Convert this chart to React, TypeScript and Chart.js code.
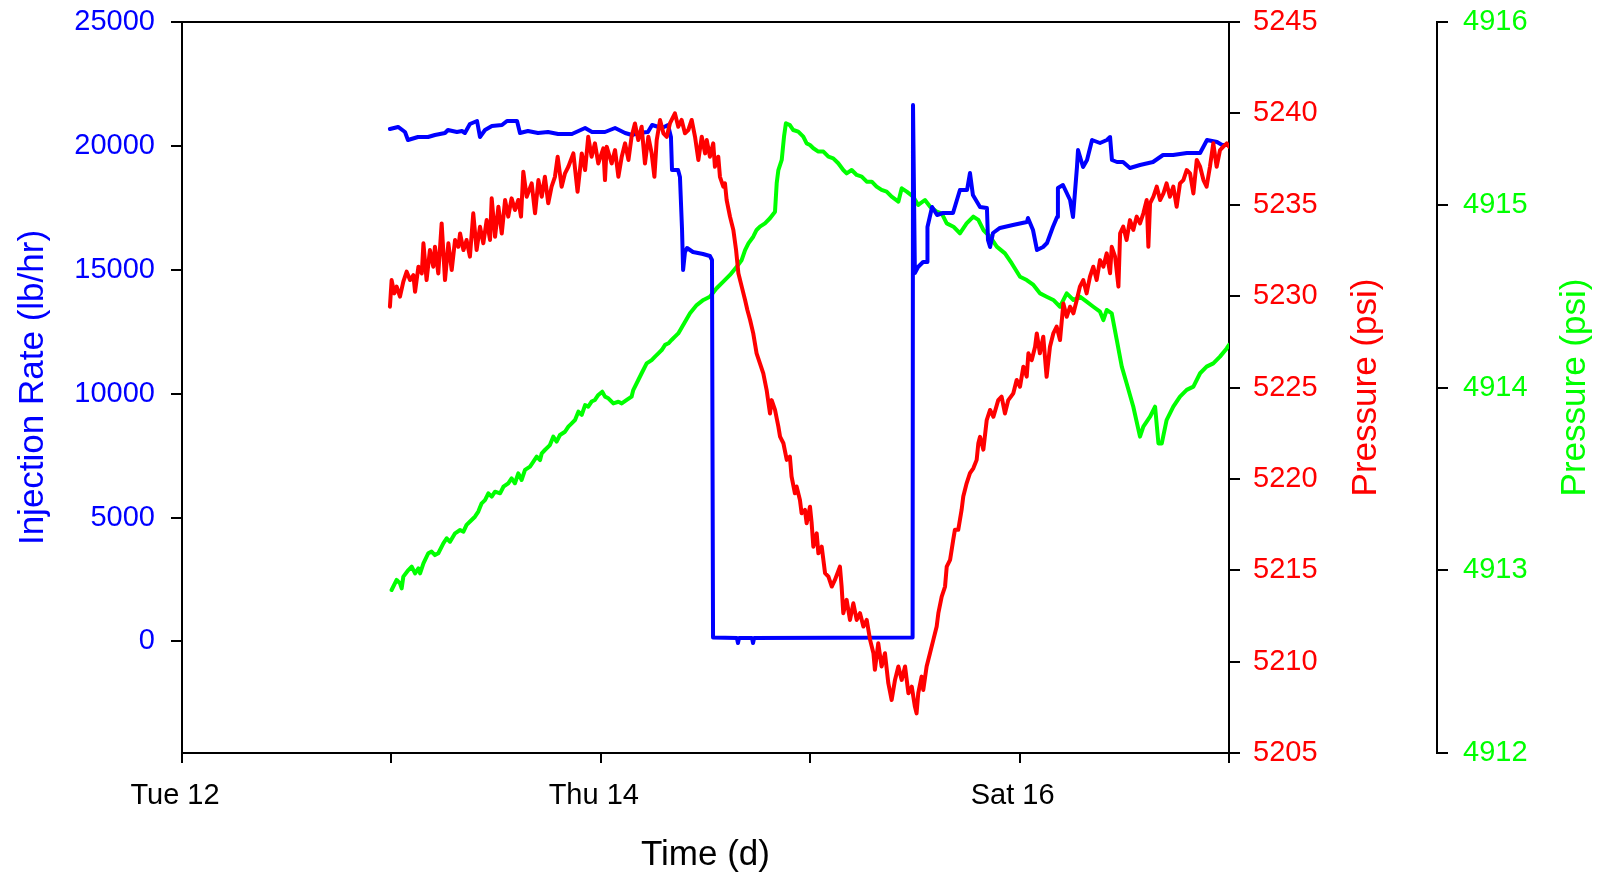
import React, { useEffect, useRef } from 'react';
import { Chart, registerables } from 'chart.js';

Chart.register(...registerables);

// ---------- axis ticks / labels ----------
const xTickValues = [0, 1, 2, 3, 4, 5];
const xTickLabels = ['Tue 12', '', 'Thu 14', '', 'Sat 16', ''];
const rateTicks = [0, 5000, 10000, 15000, 20000, 25000];
const redTicks = [5205, 5210, 5215, 5220, 5225, 5230, 5235, 5240, 5245];
const greenTicks = [4912, 4913, 4914, 4915, 4916];

// ---------- series: [time (days after Tue 12 00:00), value] ----------
const injectionRate: [number, number][] = [
  [0.993, 20682], [1.032, 20763], [1.065, 20561], [1.079, 20238], [1.127, 20359], [1.175, 20359],
  [1.208, 20440], [1.256, 20520], [1.270, 20642], [1.313, 20561], [1.337, 20601], [1.351, 20520],
  [1.375, 20884], [1.409, 21005], [1.423, 20359], [1.447, 20642], [1.480, 20803], [1.528, 20843],
  [1.552, 21005], [1.600, 21005], [1.614, 20520], [1.652, 20601], [1.700, 20520], [1.748, 20561],
  [1.796, 20480], [1.862, 20480], [1.925, 20722], [1.958, 20561], [2.020, 20561], [2.068, 20722],
  [2.116, 20520], [2.149, 20440], [2.178, 20520], [2.225, 20561], [2.245, 20843], [2.292, 20722],
  [2.321, 20843], [2.335, 20359], [2.340, 19027], [2.369, 19027], [2.378, 18745], [2.388, 16606],
  [2.393, 14992], [2.402, 15718], [2.412, 15880], [2.440, 15718], [2.488, 15637], [2.521, 15557],
  [2.531, 15395], [2.536, 160], [2.650, 140], [2.655, -60], [2.660, 140], [2.722, 140],
  [2.727, -60], [2.732, 140], [3.489, 160], [3.491, 21650], [3.500, 14871], [3.515, 15113],
  [3.539, 15315], [3.558, 15315], [3.560, 16727], [3.582, 17534], [3.606, 17211], [3.634, 17292],
  [3.682, 17292], [3.715, 18220], [3.749, 18220], [3.763, 18906], [3.777, 18018], [3.811, 17534],
  [3.844, 17494], [3.849, 16202], [3.859, 15920], [3.873, 16485], [3.906, 16687], [3.968, 16808],
  [4.035, 16929], [4.040, 17090], [4.064, 16606], [4.083, 15799], [4.112, 15920], [4.131, 16081],
  [4.159, 16727], [4.179, 17131], [4.183, 18301], [4.207, 18422], [4.241, 17817], [4.255, 17131],
  [4.274, 19148], [4.279, 19834], [4.303, 19148], [4.322, 19431], [4.346, 20238], [4.384, 20117],
  [4.417, 20238], [4.432, 20359], [4.441, 19431], [4.465, 19350], [4.494, 19350], [4.527, 19108],
  [4.575, 19229], [4.637, 19350], [4.685, 19633], [4.733, 19633], [4.799, 19713], [4.862, 19713],
  [4.895, 20238], [4.943, 20157], [4.967, 20036], [4.995, 20036],
];

const pressureRed: [number, number][] = [
  [0.993, 5229.42], [1.001, 5230.88], [1.014, 5230.15], [1.025, 5230.52], [1.041, 5229.97], [1.057, 5230.79],
  [1.073, 5231.34], [1.089, 5230.88], [1.105, 5231.15], [1.113, 5230.24], [1.129, 5231.61], [1.145, 5231.24],
  [1.153, 5232.89], [1.168, 5230.88], [1.184, 5232.52], [1.200, 5231.61], [1.208, 5232.70], [1.224, 5231.24],
  [1.240, 5233.98], [1.256, 5230.88], [1.272, 5232.89], [1.288, 5231.43], [1.304, 5233.07], [1.320, 5232.70],
  [1.328, 5233.43], [1.344, 5232.52], [1.359, 5233.07], [1.375, 5232.16], [1.391, 5234.53], [1.407, 5232.52],
  [1.423, 5233.80], [1.439, 5232.89], [1.455, 5234.16], [1.471, 5233.07], [1.479, 5235.35], [1.495, 5233.25],
  [1.511, 5234.89], [1.527, 5233.43], [1.543, 5235.26], [1.558, 5234.35], [1.574, 5235.35], [1.590, 5234.71],
  [1.606, 5235.26], [1.619, 5234.35], [1.630, 5236.81], [1.646, 5235.44], [1.670, 5236.17], [1.686, 5234.53],
  [1.702, 5236.35], [1.718, 5235.44], [1.733, 5236.53], [1.749, 5235.08], [1.765, 5235.99], [1.781, 5236.53],
  [1.794, 5237.63], [1.813, 5235.99], [1.829, 5236.72], [1.845, 5237.08], [1.869, 5237.81], [1.889, 5235.71],
  [1.909, 5237.81], [1.925, 5236.90], [1.940, 5238.72], [1.956, 5237.63], [1.972, 5238.36], [1.988, 5237.26],
  [2.012, 5238.09], [2.020, 5236.35], [2.028, 5238.18], [2.052, 5237.26], [2.068, 5237.99], [2.084, 5236.53],
  [2.100, 5237.63], [2.116, 5238.36], [2.132, 5237.45], [2.147, 5238.72], [2.163, 5239.45], [2.179, 5238.54],
  [2.195, 5239.27], [2.211, 5237.26], [2.227, 5238.72], [2.243, 5237.81], [2.256, 5236.53], [2.267, 5238.54],
  [2.283, 5239.64], [2.299, 5238.91], [2.315, 5238.72], [2.330, 5239.45], [2.354, 5240.00], [2.370, 5239.27],
  [2.386, 5239.64], [2.402, 5238.91], [2.418, 5239.09], [2.434, 5239.64], [2.450, 5238.72], [2.466, 5237.45],
  [2.482, 5238.72], [2.498, 5237.81], [2.506, 5238.54], [2.521, 5237.63], [2.537, 5238.36], [2.545, 5237.08],
  [2.561, 5237.63], [2.569, 5236.53], [2.585, 5235.99], [2.593, 5236.17], [2.601, 5235.26], [2.617, 5234.35],
  [2.633, 5233.62], [2.646, 5232.52], [2.657, 5231.25], [2.673, 5230.52], [2.689, 5229.79], [2.700, 5229.24],
  [2.713, 5228.69], [2.728, 5227.96], [2.744, 5226.87], [2.760, 5226.32], [2.776, 5225.77], [2.792, 5224.86],
  [2.808, 5223.58], [2.816, 5224.31], [2.832, 5223.77], [2.848, 5222.86], [2.856, 5222.31], [2.872, 5221.95],
  [2.888, 5221.04], [2.903, 5221.22], [2.911, 5220.13], [2.927, 5219.21], [2.935, 5219.58], [2.951, 5218.85],
  [2.959, 5218.12], [2.975, 5218.30], [2.983, 5217.57], [2.999, 5218.48], [3.007, 5217.57], [3.015, 5216.29],
  [3.031, 5217.02], [3.039, 5215.93], [3.055, 5216.29], [3.071, 5214.84], [3.087, 5214.65], [3.103, 5214.11],
  [3.118, 5214.47], [3.142, 5215.20], [3.150, 5214.11], [3.158, 5212.65], [3.174, 5213.38], [3.190, 5212.28],
  [3.206, 5213.19], [3.222, 5212.28], [3.238, 5212.65], [3.254, 5211.92], [3.270, 5212.28], [3.286, 5211.19],
  [3.302, 5210.46], [3.309, 5209.55], [3.325, 5211.01], [3.341, 5209.73], [3.357, 5210.46], [3.373, 5208.82],
  [3.389, 5207.90], [3.405, 5209.00], [3.421, 5209.73], [3.437, 5209.00], [3.453, 5209.73], [3.469, 5208.27],
  [3.485, 5208.63], [3.500, 5207.54], [3.508, 5207.17], [3.516, 5208.27], [3.532, 5209.18], [3.540, 5208.45],
  [3.556, 5209.73], [3.572, 5210.46], [3.588, 5211.19], [3.604, 5211.92], [3.612, 5212.65], [3.628, 5213.56],
  [3.644, 5214.11], [3.652, 5215.20], [3.668, 5215.57], [3.683, 5216.66], [3.691, 5217.21], [3.707, 5217.21],
  [3.723, 5218.30], [3.731, 5219.03], [3.747, 5219.76], [3.763, 5220.31], [3.779, 5220.58], [3.795, 5221.04],
  [3.803, 5221.95], [3.811, 5222.30], [3.827, 5221.60], [3.843, 5223.22], [3.859, 5223.77], [3.875, 5223.40],
  [3.898, 5224.31], [3.914, 5224.50], [3.930, 5223.58], [3.946, 5224.31], [3.970, 5224.68], [3.986, 5225.41],
  [4.002, 5225.04], [4.018, 5226.14], [4.034, 5225.59], [4.042, 5226.87], [4.058, 5226.50], [4.074, 5227.23],
  [4.082, 5227.96], [4.097, 5226.87], [4.113, 5227.78], [4.129, 5225.59], [4.145, 5227.23], [4.161, 5227.96],
  [4.177, 5228.33], [4.193, 5227.60], [4.209, 5229.60], [4.225, 5228.87], [4.241, 5229.42], [4.257, 5229.06],
  [4.273, 5229.79], [4.288, 5230.52], [4.304, 5230.88], [4.320, 5230.15], [4.336, 5231.06], [4.352, 5231.61],
  [4.368, 5230.88], [4.384, 5231.97], [4.400, 5231.61], [4.416, 5232.34], [4.432, 5231.25], [4.440, 5232.70],
  [4.456, 5232.16], [4.472, 5230.52], [4.480, 5233.43], [4.495, 5233.80], [4.511, 5233.07], [4.527, 5234.16],
  [4.543, 5233.62], [4.559, 5234.35], [4.575, 5233.98], [4.591, 5234.53], [4.607, 5235.26], [4.615, 5232.70],
  [4.623, 5235.08], [4.639, 5235.44], [4.655, 5235.99], [4.671, 5235.26], [4.687, 5235.62], [4.702, 5236.17],
  [4.718, 5235.44], [4.734, 5235.99], [4.750, 5234.89], [4.766, 5236.17], [4.782, 5236.35], [4.798, 5236.90],
  [4.814, 5236.72], [4.830, 5235.62], [4.846, 5237.45], [4.862, 5237.08], [4.878, 5236.35], [4.893, 5235.99],
  [4.909, 5237.08], [4.925, 5238.36], [4.941, 5237.08], [4.957, 5237.99], [4.973, 5238.18], [4.989, 5238.36],
  [5.000, 5238.18],
];

const pressureGreen: [number, number][] = [
  [1.001, 4912.892], [1.025, 4912.947], [1.041, 4912.928], [1.049, 4912.901], [1.057, 4912.965], [1.081, 4913.001],
  [1.097, 4913.020], [1.113, 4912.983], [1.129, 4913.010], [1.137, 4912.983], [1.153, 4913.038], [1.176, 4913.093],
  [1.192, 4913.102], [1.208, 4913.083], [1.224, 4913.093], [1.248, 4913.147], [1.264, 4913.175], [1.280, 4913.156],
  [1.304, 4913.202], [1.328, 4913.220], [1.344, 4913.211], [1.359, 4913.248], [1.383, 4913.275], [1.399, 4913.293],
  [1.415, 4913.321], [1.431, 4913.366], [1.447, 4913.384], [1.463, 4913.421], [1.479, 4913.403], [1.495, 4913.430],
  [1.519, 4913.421], [1.535, 4913.457], [1.558, 4913.476], [1.574, 4913.503], [1.590, 4913.476], [1.606, 4913.530],
  [1.622, 4913.494], [1.638, 4913.549], [1.662, 4913.567], [1.678, 4913.594], [1.694, 4913.622], [1.710, 4913.603],
  [1.718, 4913.640], [1.733, 4913.658], [1.757, 4913.685], [1.773, 4913.731], [1.789, 4913.704], [1.805, 4913.740],
  [1.829, 4913.758], [1.845, 4913.786], [1.861, 4913.804], [1.877, 4913.822], [1.893, 4913.868], [1.909, 4913.850],
  [1.925, 4913.904], [1.940, 4913.895], [1.956, 4913.923], [1.972, 4913.932], [1.988, 4913.959], [2.007, 4913.977],
  [2.020, 4913.950], [2.036, 4913.941], [2.060, 4913.913], [2.084, 4913.922], [2.100, 4913.913], [2.124, 4913.932],
  [2.147, 4913.950], [2.155, 4913.986], [2.179, 4914.041], [2.195, 4914.078], [2.219, 4914.132], [2.243, 4914.150],
  [2.259, 4914.169], [2.275, 4914.187], [2.291, 4914.205], [2.307, 4914.233], [2.323, 4914.242], [2.338, 4914.260],
  [2.354, 4914.278], [2.370, 4914.296], [2.426, 4914.406], [2.458, 4914.451], [2.490, 4914.479], [2.521, 4914.497],
  [2.553, 4914.543], [2.585, 4914.579], [2.617, 4914.616], [2.649, 4914.661], [2.673, 4914.698], [2.689, 4914.752],
  [2.705, 4914.789], [2.728, 4914.825], [2.744, 4914.862], [2.760, 4914.880], [2.784, 4914.898], [2.808, 4914.926],
  [2.832, 4914.962], [2.840, 4915.117], [2.848, 4915.190], [2.864, 4915.245], [2.875, 4915.373], [2.884, 4915.446],
  [2.903, 4915.436], [2.919, 4915.409], [2.943, 4915.400], [2.967, 4915.373], [2.983, 4915.336], [2.999, 4915.327],
  [3.015, 4915.309], [3.039, 4915.291], [3.063, 4915.291], [3.087, 4915.263], [3.110, 4915.254], [3.134, 4915.227],
  [3.158, 4915.190], [3.174, 4915.172], [3.198, 4915.190], [3.222, 4915.163], [3.246, 4915.154], [3.270, 4915.126],
  [3.294, 4915.126], [3.317, 4915.099], [3.341, 4915.081], [3.365, 4915.072], [3.389, 4915.044], [3.421, 4915.017],
  [3.437, 4915.090], [3.461, 4915.072], [3.492, 4915.044], [3.516, 4914.999], [3.548, 4915.026], [3.572, 4914.990],
  [3.604, 4914.962], [3.628, 4914.953], [3.652, 4914.898], [3.684, 4914.880], [3.715, 4914.844], [3.747, 4914.898],
  [3.779, 4914.935], [3.803, 4914.917], [3.827, 4914.862], [3.859, 4914.825], [3.891, 4914.771], [3.930, 4914.734],
  [3.962, 4914.680], [4.002, 4914.606], [4.034, 4914.588], [4.066, 4914.561], [4.098, 4914.515], [4.129, 4914.497],
  [4.161, 4914.479], [4.193, 4914.442], [4.225, 4914.515], [4.257, 4914.479], [4.288, 4914.497], [4.320, 4914.470],
  [4.352, 4914.442], [4.384, 4914.415], [4.400, 4914.369], [4.416, 4914.424], [4.440, 4914.406], [4.464, 4914.260],
  [4.488, 4914.114], [4.511, 4914.023], [4.543, 4913.895], [4.575, 4913.731], [4.591, 4913.786], [4.623, 4913.840],
  [4.647, 4913.895], [4.663, 4913.694], [4.679, 4913.694], [4.702, 4913.822], [4.734, 4913.895], [4.766, 4913.950],
  [4.798, 4913.987], [4.830, 4914.005], [4.862, 4914.078], [4.893, 4914.114], [4.925, 4914.132], [4.957, 4914.169],
  [4.989, 4914.214], [5.000, 4914.233],
];

// ---------- styling ----------
const FONT = '"Liberation Sans", Arial, Helvetica, sans-serif';
const BLUE = '#0000FF';
const RED = '#FF0000';
const GREEN = '#00FF00';
const BLACK = '#000000';

const toXY = (pts: [number, number][]) => pts.map(([x, y]) => ({ x, y }));

const tickGrid = (len: number) => ({
  display: true,
  drawOnChartArea: false,
  drawTicks: true,
  tickLength: len,
  tickWidth: 2,
  tickColor: BLACK,
  color: BLACK,
  lineWidth: 2,
});
const axisBorder = { display: true, color: BLACK, width: 2 };

function drawVerticalTitle(ctx: CanvasRenderingContext2D, text: string, x: number, y: number, color: string) {
  ctx.save();
  ctx.translate(x, y);
  ctx.rotate(-Math.PI / 2);
  ctx.fillStyle = color;
  ctx.textAlign = 'center';
  ctx.textBaseline = 'middle';
  ctx.fillText(text, 0, 0);
  ctx.restore();
}

const frameAndTitles = {
  id: 'frameAndTitles',
  afterDraw(chart: any) {
    const { ctx, chartArea, scales } = chart;
    const { left, right, top, bottom } = chartArea;
    ctx.save();
    ctx.strokeStyle = BLACK;
    ctx.lineWidth = 2;
    ctx.beginPath();
    ctx.moveTo(left - 1, top);
    ctx.lineTo(right + 1, top);
    ctx.stroke();

    ctx.font = `35px ${FONT}`;
    ctx.fillStyle = BLACK;
    ctx.textAlign = 'center';
    ctx.textBaseline = 'middle';
    ctx.fillText('Time (d)', (left + right) / 2, bottom + 102);

    const cy = (top + bottom) / 2;
    drawVerticalTitle(ctx, 'Injection Rate (lb/hr)', scales.yRate.left + 33, cy, BLUE);
    drawVerticalTitle(ctx, 'Pressure (psi)', scales.yRed.left + 137, cy, RED);
    drawVerticalTitle(ctx, 'Pressure (psi)', scales.yGreen.left + 138, cy, GREEN);
    ctx.restore();
  },
};

const fitVertical = (width: number) => (s: any) => {
  s.width = width;
  s.paddingTop = 0;
  s.paddingBottom = 0;
};

export default function App() {
  const canvasRef = useRef<HTMLCanvasElement | null>(null);

  useEffect(() => {
    document.body.style.margin = '0';
    const canvas = canvasRef.current;
    if (!canvas) return;
    const tickFont = { family: FONT, size: 29 };
    const lineStyle = {
      borderWidth: 4,
      pointRadius: 0,
      tension: 0,
      fill: false,
      borderJoinStyle: 'round' as const,
      borderCapStyle: 'round' as const,
    };
    const chart = new Chart(canvas, {
      type: 'line',
      data: {
        datasets: [
          { label: 'Pressure (psi)', data: toXY(pressureRed), yAxisID: 'yRed', borderColor: RED, backgroundColor: RED, ...lineStyle },
          { label: 'Injection Rate (lb/hr)', data: toXY(injectionRate), yAxisID: 'yRate', borderColor: BLUE, backgroundColor: BLUE, ...lineStyle },
          { label: 'Pressure (psi) 2', data: toXY(pressureGreen), yAxisID: 'yGreen', borderColor: GREEN, backgroundColor: GREEN, ...lineStyle },
        ],
      },
      options: {
        animation: false,
        responsive: false,
        maintainAspectRatio: false,
        devicePixelRatio: 1,
        layout: { padding: { top: 22, left: 0, right: 0, bottom: 0 } },
        plugins: { legend: { display: false }, tooltip: { enabled: false }, title: { display: false } },
        scales: {
          x: {
            type: 'linear',
            min: 0,
            max: 5,
            afterBuildTicks: (s: any) => { s.ticks = xTickValues.map((v) => ({ value: v })); },
            afterFit: (s: any) => { s.height = 120; },
            ticks: {
              autoSkip: false,
              maxRotation: 0,
              minRotation: 0,
              padding: 16,
              labelOffset: -7,
              color: BLACK,
              font: tickFont,
              callback: (v: any) => xTickLabels[xTickValues.indexOf(Number(v))] ?? '',
            },
            grid: tickGrid(10),
            border: axisBorder,
          },
          yRate: {
            type: 'linear',
            position: 'left',
            min: -4500,
            max: 25000,
            afterBuildTicks: (s: any) => { s.ticks = rateTicks.map((v) => ({ value: v })); },
            afterFit: fitVertical(182),
            ticks: { color: BLUE, font: tickFont, padding: 16, callback: (v: any) => String(v) },
            grid: tickGrid(11),
            border: axisBorder,
          },
          yRed: {
            type: 'linear',
            position: 'right',
            weight: 1,
            min: 5205,
            max: 5245,
            afterBuildTicks: (s: any) => { s.ticks = redTicks.map((v) => ({ value: v })); },
            afterFit: fitVertical(208),
            ticks: { color: RED, font: tickFont, padding: 13, callback: (v: any) => String(v) },
            grid: tickGrid(11),
            border: axisBorder,
          },
          yGreen: {
            type: 'linear',
            position: 'right',
            weight: 2,
            min: 4912,
            max: 4916,
            afterBuildTicks: (s: any) => { s.ticks = greenTicks.map((v) => ({ value: v })); },
            afterFit: fitVertical(168),
            ticks: { color: GREEN, font: tickFont, padding: 15, callback: (v: any) => String(v) },
            grid: tickGrid(11),
            border: axisBorder,
          },
        },
      },
      plugins: [frameAndTitles],
    } as any);
    return () => chart.destroy();
  }, []);

  return (
    <div style={{ width: 1605, height: 873, background: '#ffffff' }}>
      <canvas ref={canvasRef} width={1605} height={873} style={{ display: 'block' }} />
    </div>
  );
}
